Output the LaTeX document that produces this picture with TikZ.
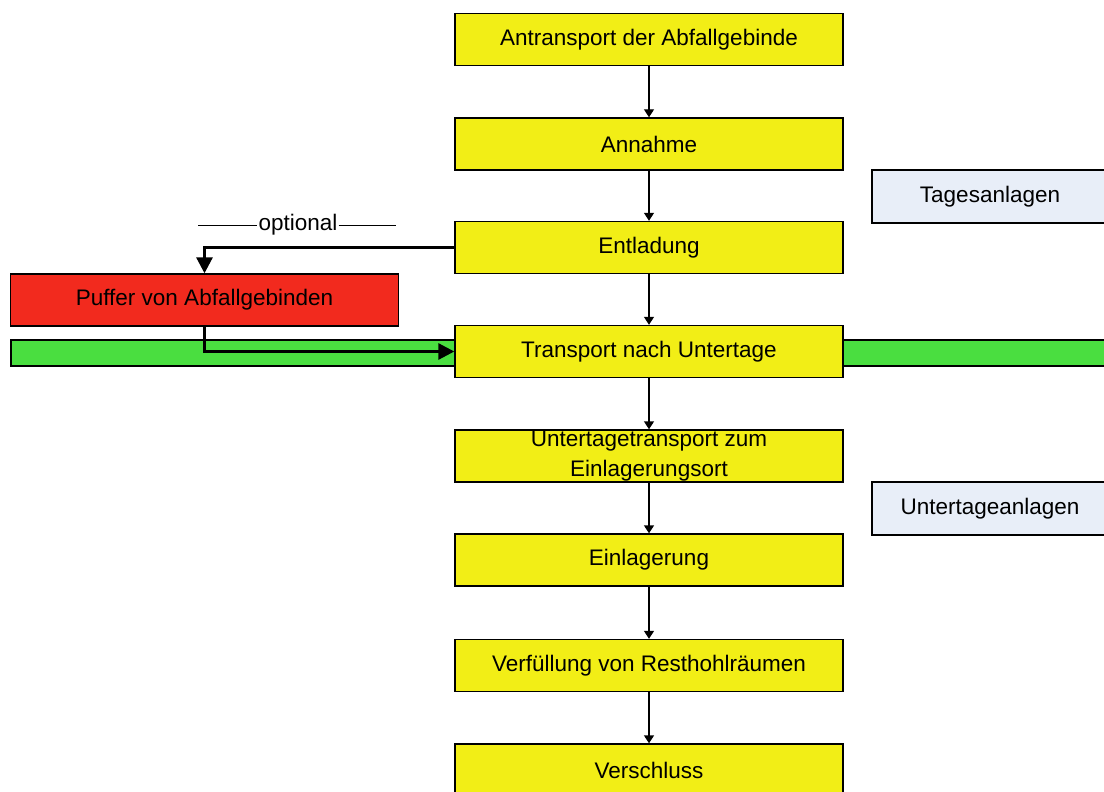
\documentclass[tikz,border=0pt]{standalone}
\usepackage{fontspec}
\setmainfont{Liberation Sans}
\usetikzlibrary{arrows.meta}
\definecolor{boxyellow}{RGB}{242,238,22}
\definecolor{boxred}{RGB}{242,42,30}
\definecolor{bargreen}{RGB}{74,222,64}
\definecolor{boxgrey}{RGB}{232,238,248}
\begin{document}
\begin{tikzpicture}[x=1pt,y=-1pt,
  txt/.style={font=\fontsize{22.5}{30}\selectfont},
  box/.style={txt, draw=black, line width=1.4pt, minimum width=388pt, minimum height=52pt, inner sep=0pt, align=center},
  stepbox/.style={box, fill=boxyellow},
  bufbox/.style={box, fill=boxred},
  areabox/.style={box, fill=boxgrey, minimum width=236pt, minimum height=53pt},
  flow/.style={draw=black, line width=1.4pt, -{Triangle[length=8pt,width=10pt]}},
  thick flow/.style={draw=black, line width=3pt, -{Triangle[length=16pt,width=16pt]}},
  ]
\useasboundingbox (0,0) rectangle (1104,792);
\clip (0,0) rectangle (1104,792);
\fill[white] (0,0) rectangle (1104,792);

% green level bar
\draw[fill=bargreen, line width=1.4pt] (11,340) rectangle (1110,366);

\node[stepbox] (s1) at (649,39.5) {Antransport der Abfallgebinde};
\node[stepbox] (s2) at (649,144) {Annahme};
\node[stepbox] (s3) at (649,247.5) {Entladung};
\node[stepbox] (s4) at (649,351.5) {Transport nach Untertage};
\node[stepbox] (s5) at (649,456) {Untertagetransport zum\\Einlagerungsort};
\node[stepbox] (s6) at (649,560) {Einlagerung};
\node[stepbox] (s7) at (649,665.5) {Verfüllung von Resthohlräumen};
\node[stepbox] (s8) at (649,770) {Verschluss};

\node[bufbox] (buf) at (204.5,300) {Puffer von Abfallgebinden};

\node[areabox] (tag) at (990,196.5) {Tagesanlagen};
\node[areabox] (unt) at (990,508.5) {Untertageanlagen};

\draw[flow] (s1) -- (s2);
\draw[flow] (s2) -- (s3);
\draw[flow] (s3) -- (s4);
\draw[flow] (s4) -- (s5);
\draw[flow] (s5) -- (s6);
\draw[flow] (s6) -- (s7);
\draw[flow] (s7) -- (s8);

\draw[thick flow] (s3.west) -| (buf.north);
\draw[thick flow] (buf.south) |- (s4.west);

% optional label
\node[txt, anchor=base, inner sep=1pt] (opt) at (298,230) {optional};
\coordinate (optL) at (198,225);
\coordinate (optR) at (396,225);
\draw[line width=1pt] (optL) -- (optL -| opt.west);
\draw[line width=1pt] (optR -| opt.east) -- (optR);
\end{tikzpicture}
\end{document}
